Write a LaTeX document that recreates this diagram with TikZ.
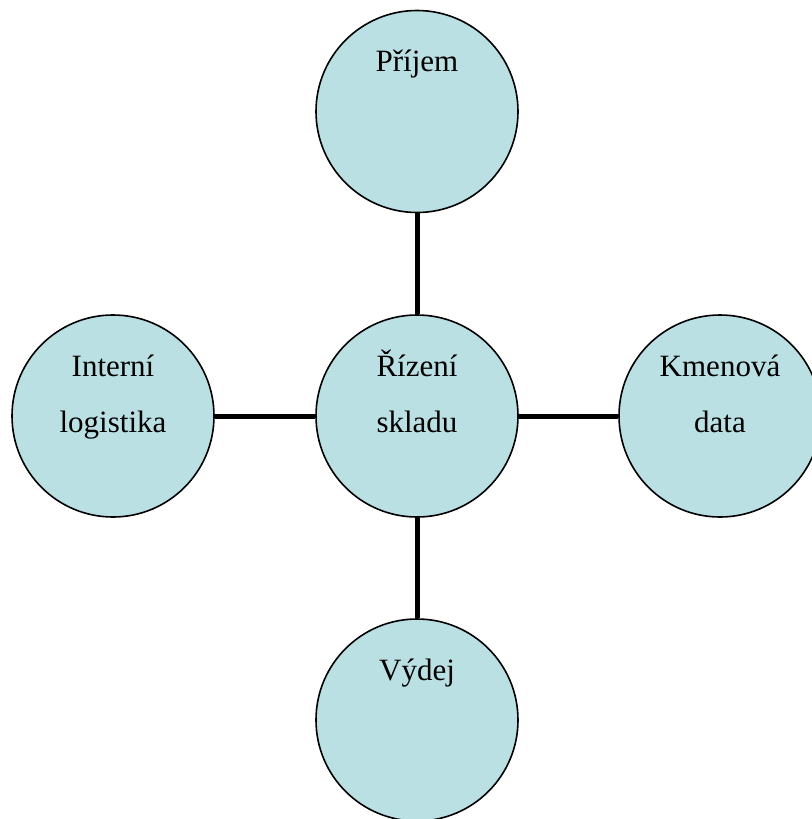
\documentclass[tikz,border=0pt]{standalone}
\usepackage{fontspec}
\setmainfont{Liberation Serif}
\usetikzlibrary{calc}
\definecolor{bubblefill}{HTML}{BBE0E3}
% two centred lines whose reference point is the first baseline
\newcommand{\twolines}[2]{\begin{tabular}[t]{@{}c@{}}#1\\#2\end{tabular}}
\renewcommand{\arraystretch}{1.556}

\begin{document}
\begin{tikzpicture}[x=1pt,y=-1pt,
  bubble/.style={circle, draw=black, line width=1.6pt, fill=bubblefill,
                 minimum size=202pt, inner sep=0pt},
  lbl/.style={anchor=base, inner sep=0pt, font=\fontsize{31}{36}\selectfont},
  link/.style={line width=5pt}]
\useasboundingbox (0,0) rectangle (811,819);

% circles
\node[bubble] (hub)   at (417,416)   {};
\node[bubble] (top)   at (417,111.5) {};
\node[bubble] (bot)   at (417,720)   {};
\node[bubble] (left)  at (113,416)   {};
\node[bubble] (right) at (720,416)   {};

% connectors
\draw[link] (hub) -- (top);
\draw[link] (hub) -- (bot);
\draw[link] (hub) -- (left);
\draw[link] (hub) -- (right);

% labels, first baseline 40pt above each centre
\node[lbl] (hubtxt)   at ($(hub.center)+(0,-40)$)   {\twolines{Řízení}{skladu}};
\node[lbl] (toptxt)   at ($(top.center)+(0,-40)$)   {Příjem};
\node[lbl] (bottxt)   at ($(bot.center)+(0,-40)$)   {Výdej};
\node[lbl] (lefttxt)  at ($(left.center)+(0,-40)$)  {\twolines{Interní}{logistika}};
\node[lbl] (righttxt) at ($(right.center)+(0,-40)$) {\twolines{Kmenová}{data}};
\end{tikzpicture}
\end{document}
